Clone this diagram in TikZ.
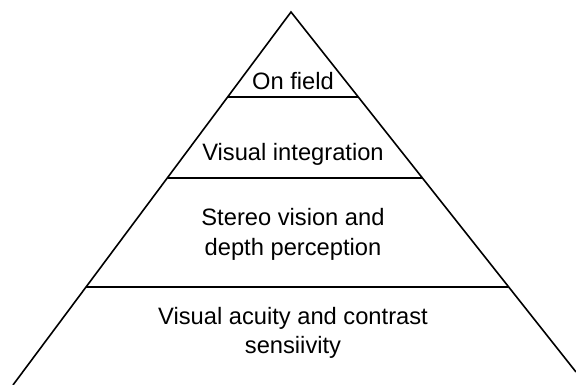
\documentclass[tikz,border=0pt]{standalone}
\usepackage{fontspec}
\setmainfont{Liberation Sans}
\usepackage{tikz}
\usetikzlibrary{positioning}

\begin{document}
\begin{tikzpicture} [x=1pt, y=1pt, line width=1.6pt, level/.style ={inner sep=0pt, align=center, font=\fontsize{23.7}{29.5}\selectfont}]
		\useasboundingbox (0,0) rectangle (576,385);
		% outline of the pyramid
		\coordinate (apex) at (291,373);
		\coordinate (L0) at (13,0);
		\coordinate (R0) at (576,13);
		\draw (L0) -- (apex) -- (R0);
		% level borders
		\coordinate (L1) at (intersection of apex--L0 and 0,288--576,288);
		\coordinate (R1) at (intersection of apex--R0 and 0,288--576,288);
		\coordinate (L2) at (intersection of apex--L0 and 0,207--576,207);
		\coordinate (R2) at (intersection of apex--R0 and 0,207--576,207);
		\coordinate (L3) at (intersection of apex--L0 and 0,98--576,98);
		\coordinate (R3) at (intersection of apex--R0 and 0,98--576,98);
		\draw (L1) -- (R1);
		\draw (L2) -- (R2);
		\draw (L3) -- (R3);
		% labels
		\node[level, anchor=base] (onfield) at (293,295) {On field};
		\node[level, anchor=base] (integration) at (293,224.3) {Visual integration};
		\node[level] (stereo) at (293,150.5) {Stereo vision and\\depth perception};
		\node[level] (acuity) at (293,52) {Visual acuity and contrast\\sensiivity};
	\end{tikzpicture}
\end{document}
